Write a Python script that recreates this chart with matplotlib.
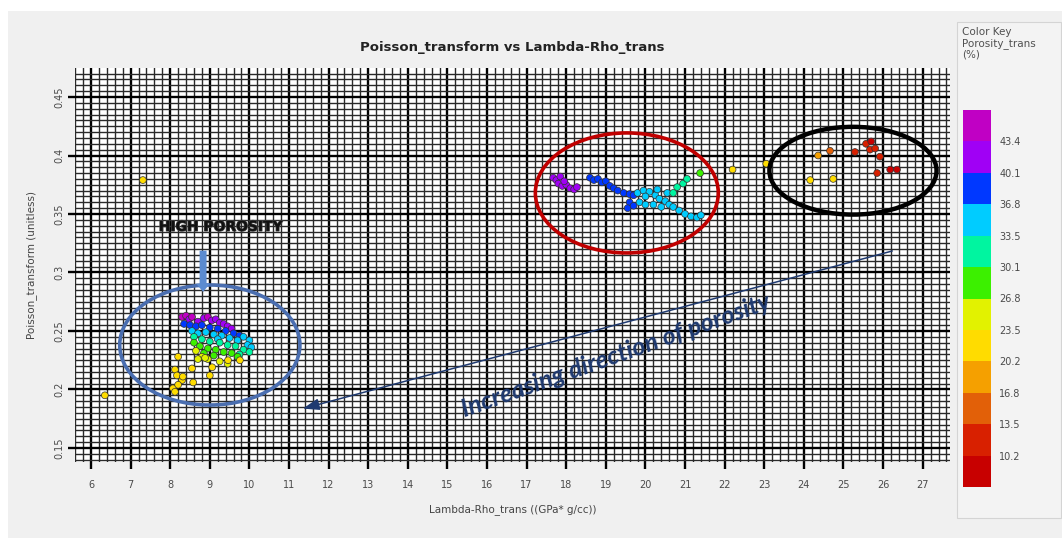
import numpy as np
import matplotlib
matplotlib.use("Agg")
import matplotlib.pyplot as plt
from matplotlib.colors import ListedColormap, BoundaryNorm
from matplotlib.patches import Ellipse, Rectangle
from matplotlib.ticker import MultipleLocator
import matplotlib.patheffects as pe

# Lambda-Rho vs Poisson, coloured by porosity (%)
# low Lambda-Rho cluster (high porosity)
low_x = [8.30, 8.40, 8.48, 8.55, 8.70, 8.85, 8.95, 9.05, 9.15, 9.25, 9.35, 9.45, 9.55,
         8.35, 8.50, 8.65, 8.80, 9.00, 9.20, 9.40, 9.60, 9.75,
         8.55, 8.70, 8.90, 9.10, 9.30, 9.50, 9.70, 9.85, 10.00, 9.95, 10.05, 9.20,
         8.60, 8.80, 9.00, 9.25, 9.45, 9.65, 9.85, 10.00, 9.75,
         8.60, 8.75, 8.95, 9.15, 9.35, 9.55, 9.70, 8.85, 9.10,
         8.65, 8.80, 8.95, 9.25, 8.70, 9.45,
         8.20, 8.12, 8.17, 8.30, 8.07, 8.20, 8.32, 8.55, 8.58, 9.00, 9.06, 9.46, 9.76,
         8.88, 8.12, 6.35, 7.31]
low_y = [0.262, 0.263, 0.260, 0.262, 0.258, 0.261, 0.262, 0.259, 0.260, 0.257, 0.256, 0.254, 0.252,
         0.256, 0.255, 0.254, 0.255, 0.253, 0.252, 0.250, 0.248, 0.246,
         0.250, 0.248, 0.249, 0.247, 0.246, 0.244, 0.242, 0.245, 0.242, 0.238, 0.236, 0.243,
         0.245, 0.243, 0.241, 0.240, 0.238, 0.237, 0.234, 0.232, 0.230,
         0.240, 0.237, 0.235, 0.234, 0.232, 0.231, 0.228, 0.231, 0.229,
         0.233, 0.228, 0.226, 0.224, 0.226, 0.222,
         0.228, 0.217, 0.212, 0.208, 0.201, 0.204, 0.211, 0.218, 0.206, 0.212, 0.219, 0.225, 0.225,
         0.227, 0.198, 0.195, 0.379]
low_por = [44, 44, 43, 44, 42, 43, 44, 42, 43, 42, 41, 41, 41,
           39, 39, 38, 39, 38, 38, 38, 37, 37,
           35, 35, 35, 35, 34, 34, 34, 35, 34, 34, 34, 35,
           32, 32, 32, 31, 32, 31, 31, 31, 31,
           28, 28, 28, 28, 28, 28, 28, 28, 28,
           25, 25, 25, 25, 25, 25,
           22, 22, 22, 22, 22, 22, 22, 22, 22, 22, 22, 22, 22,
           24, 22, 21, 22]

# middle cluster
mid_x = [17.67, 17.75, 17.85, 17.80, 17.90, 18.00, 18.10, 18.20, 18.27, 17.95,
         18.60, 18.70, 18.80, 18.90, 19.00, 19.10, 19.20, 19.30, 19.45, 19.60, 19.70, 19.60, 19.55, 19.70,
         19.80, 19.95, 20.10, 20.25, 20.35, 20.50, 20.60, 20.70, 20.85, 21.00, 21.15, 21.30, 21.40,
         19.85, 20.00, 20.20, 20.40, 20.00, 20.30, 20.55,
         20.80, 20.95, 21.05, 20.70, 21.38, 22.20, 23.05]
mid_y = [0.381, 0.379, 0.382, 0.376, 0.374, 0.375, 0.372, 0.371, 0.373, 0.378,
         0.381, 0.379, 0.380, 0.377, 0.378, 0.374, 0.372, 0.370, 0.368, 0.367, 0.366, 0.360, 0.355, 0.357,
         0.368, 0.370, 0.369, 0.366, 0.363, 0.361, 0.358, 0.356, 0.353, 0.350, 0.348, 0.347, 0.349,
         0.360, 0.358, 0.358, 0.356, 0.365, 0.371, 0.368,
         0.373, 0.376, 0.380, 0.368, 0.385, 0.388, 0.393]
mid_por = [42, 42, 41, 42, 41, 42, 41, 42, 41, 42,
           38, 38, 38, 38, 39, 38, 38, 38, 38, 38, 37, 38, 38, 37,
           35, 35, 35, 35, 35, 35, 35, 34, 34, 35, 35, 34, 35,
           35, 35, 34, 35, 35, 35, 34,
           32, 32, 31, 33, 28, 22, 22]

# high Lambda-Rho cluster (low porosity)
high_x = [24.36, 24.66, 24.16, 24.74, 25.29, 25.57, 25.67, 25.80, 25.92, 25.85, 26.18, 26.35, 25.70]
high_y = [0.400, 0.404, 0.379, 0.380, 0.403, 0.410, 0.405, 0.406, 0.399, 0.385, 0.388, 0.388, 0.412]
high_por = [18, 15, 22, 22, 12, 12, 12, 11, 12, 12, 8, 8, 9]

# colour key
key_levels = [6.9, 10.2, 13.5, 16.8, 20.2, 23.5, 26.8, 30.1, 33.5, 36.8, 40.1, 43.4, 46.7]
key_labels = ["10.2", "13.5", "16.8", "20.2", "23.5", "26.8", "30.1", "33.5", "36.8", "40.1", "43.4"]
key_colors = ["#c80000", "#d82000", "#e26008", "#f5a000", "#ffdc00", "#e2f200",
              "#3cf000", "#00f5a0", "#00ccff", "#0038ff", "#a000f5", "#c000c4"]

x_ticks = list(range(6, 28))
y_ticks = [0.15, 0.2, 0.25, 0.3, 0.35, 0.4, 0.45]

W, H = 1062, 538
fig = plt.figure(figsize=(W / 100, H / 100), dpi=100, facecolor="#f0f0f0")

# window margins and key panel
fig.patches.append(Rectangle((0, 1 - 11 / H), 1, 11 / H, transform=fig.transFigure,
                             facecolor="white", edgecolor="none", zorder=-2))
fig.patches.append(Rectangle((0, 0), 8 / W, 1, transform=fig.transFigure,
                             facecolor="white", edgecolor="none", zorder=-2))
fig.patches.append(Rectangle((957 / W, 1 - 518 / H), 104 / W, 496 / H, transform=fig.transFigure,
                             facecolor="#f3f3f3", edgecolor="#d4d4d4", lw=0.8, zorder=-1))

ax = fig.add_axes([75 / W, 1 - 462 / H, 875 / W, 394 / H])
ax.set_facecolor("white")

cmap = ListedColormap(key_colors)
norm = BoundaryNorm(key_levels, cmap.N)

# graph-paper grid
ax.set_xlim(5.596, 27.69)
ax.set_ylim(0.138, 0.4748)
ax.set_xticks(x_ticks)
ax.set_yticks(y_ticks)
ax.set_yticklabels([f"{v:g}" for v in y_ticks], rotation=90, va="center")
ax.xaxis.set_minor_locator(MultipleLocator(0.2))
ax.yaxis.set_minor_locator(MultipleLocator(0.005))
ax.grid(which="minor", color="#2a2a2a", lw=1.0)
ax.grid(which="major", color="black", lw=1.7)
ax.set_axisbelow(True)
ax.tick_params(which="major", length=5, width=1.7, color="black", labelsize=7,
               labelcolor="#4a4a4a")
ax.tick_params(axis="x", pad=8)
ax.tick_params(axis="y", pad=3)
ax.tick_params(which="minor", length=0)
for s in ax.spines.values():
    s.set_visible(False)

for xs, ys, ps in [(low_x, low_y, low_por), (mid_x, mid_y, mid_por), (high_x, high_y, high_por)]:
    ax.scatter(xs, ys, c=ps, cmap=cmap, norm=norm, s=24, marker="o",
               edgecolors="#333333", linewidths=0.5, zorder=3)

# highlighted zones
ax.add_patch(Ellipse((9.0, 0.238), 4.55, 0.1026, fill=False, ec="#4a6eb0", lw=2.6, zorder=4))
ax.add_patch(Ellipse((19.53, 0.368), 4.62, 0.1026, fill=False, ec="#c00000", lw=2.6, zorder=4))
ax.add_patch(Ellipse((25.24, 0.387), 4.22, 0.075, fill=False, ec="black", lw=3.2, zorder=4))

ax.annotate("", xy=(11.28, 0.183), xytext=(26.3, 0.319),
            arrowprops=dict(arrowstyle="-|>,head_width=0.35,head_length=1.0",
                            color="#1f3a70", lw=1.1), zorder=5)
ax.text(19.25, 0.229, "Increasing direction of porosity", rotation=19.5,
        rotation_mode="anchor", ha="center", va="center", fontsize=18,
        family="Lato", fontweight="bold", style="italic", color="#1f3a70", zorder=5)

ax.text(9.28, 0.339, "HIGH POROSITY", ha="center", va="center", fontsize=10,
        fontweight="bold", color="#111111", zorder=5,
        path_effects=[pe.withStroke(linewidth=1.0, foreground="#444444")])
ax.annotate("", xy=(8.83, 0.281), xytext=(8.83, 0.321),
            arrowprops=dict(arrowstyle="simple,head_width=1.0,head_length=0.6,tail_width=0.5",
                            color="#5b8bd0", lw=0), zorder=5)

ax.set_title("Poisson_transform vs Lambda-Rho_trans", fontsize=9.5, fontweight="bold",
             color="#222222", pad=12)
ax.set_xlabel("Lambda-Rho_trans ((GPa* g/cc))", fontsize=7.5, color="#444444", labelpad=10)
ax.set_ylabel("Poisson_transform (unitless)", fontsize=7.5, color="#444444", labelpad=12)

# colour key
cax = fig.add_axes([963 / W, 1 - 487 / H, 28 / W, 377 / H])
sm = plt.cm.ScalarMappable(norm=norm, cmap=cmap)
cb = fig.colorbar(sm, cax=cax, ticks=key_levels[1:-1])
cb.set_ticklabels(key_labels)
cb.outline.set_visible(False)
cax.minorticks_off()
cax.tick_params(which="both", length=0, labelsize=7, labelcolor="#4a4a4a", pad=6)
fig.text(962 / W, 1 - 27 / H, "Color Key\nPorosity_trans\n(%)", fontsize=7.5, color="#505050",
         va="top", ha="left", linespacing=1.1)

fig.savefig("out.png", dpi=100, facecolor=fig.get_facecolor())
